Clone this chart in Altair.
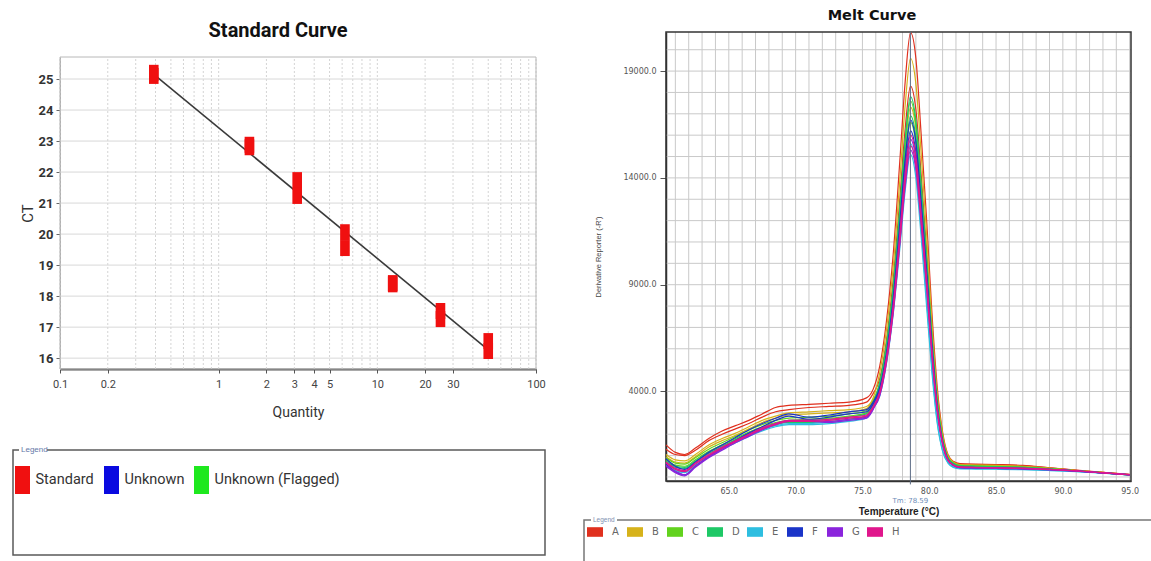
import altair as alt
import pandas as pd

# ---------------- Standard curve data ----------------
std_qty = [0.39, 0.39, 1.5625, 1.5625, 3.125, 3.125, 6.25, 6.25, 12.5, 12.5, 25, 25, 50, 50]
std_ct = [25.2, 25.1, 22.88, 22.8, 21.74, 21.23, 20.06, 19.55, 18.42, 18.38, 17.52, 17.26, 16.55, 16.23]
std_kind = ["Standard"] * 14
fit_qty = [0.39, 50]
fit_ct = [25.15, 16.27]
std_tick_values = [0.1, 0.2, 1, 2, 3, 4, 5, 10, 20, 30, 100]
std_minor_grid = [0.1, 0.2, 0.3, 0.4, 0.5, 0.6, 0.7, 0.8, 0.9,
                  1, 2, 3, 4, 5, 6, 7, 8, 9,
                  10, 20, 30, 40, 50, 60, 70, 80, 90, 100]
ct_tick_values = [16, 17, 18, 19, 20, 21, 22, 23, 24, 25]
std_categories = ["Standard", "Unknown", "Unknown (Flagged)"]
std_colors = ["#f01010", "#0a0ae0", "#1ee81e"]

# ---------------- Melt curve data ----------------
temps = [60.3, 61.0, 61.7, 62.5, 63.5, 64.5, 65.5, 66.5, 67.5, 68.5, 69.5, 71.0, 72.5, 74.0, 75.3, 75.8,
         76.3, 76.8, 77.3, 77.8, 78.2, 78.6, 79.0, 79.4, 79.8, 80.2, 80.6, 81.0, 81.4, 81.8,
         82.3, 83.5, 85.0, 87.0, 89.0, 91.0, 93.0, 95.0]
A1 = [1500, 1150, 1050, 1350, 1800, 2150, 2400, 2650, 2950, 3250, 3350, 3400, 3450, 3500, 3700, 4100,
      5200, 7300, 10400, 14800, 18500, 20800, 19600, 16000, 12100, 7700, 4200, 2100, 1050, 730,
      620, 600, 580, 540, 430, 320, 220, 120]
A2 = [1300, 1050, 1000, 1250, 1700, 2000, 2250, 2500, 2800, 3050, 3150, 3250, 3300, 3350, 3500, 3900,
      4600, 6400, 9200, 13000, 16300, 18300, 17200, 14100, 10600, 6800, 3700, 1900, 950, 680,
      600, 580, 560, 520, 420, 310, 210, 110]
B1 = [1050, 800, 750, 1050, 1500, 1800, 2050, 2350, 2650, 2850, 3000, 3050, 3100, 3150, 3300, 3700,
      4900, 6900, 9800, 13900, 17400, 19600, 18400, 15100, 11400, 7200, 3900, 2000, 1000, 700,
      580, 560, 540, 500, 410, 300, 210, 110]
B2 = [950, 700, 650, 950, 1400, 1700, 1950, 2250, 2550, 2750, 2900, 2950, 3000, 3050, 3200, 3600,
      4300, 6100, 8700, 12300, 15400, 17300, 16300, 13300, 10000, 6400, 3500, 1750, 900, 650,
      560, 540, 520, 480, 400, 300, 200, 100]
C1 = [900, 650, 600, 900, 1300, 1600, 1900, 2200, 2450, 2650, 2750, 2800, 2850, 2950, 3100, 3550,
      4400, 6200, 8800, 12500, 15700, 17600, 16500, 13600, 10200, 6500, 3500, 1800, 900, 640,
      540, 520, 500, 460, 390, 290, 200, 100]
C2 = [800, 550, 500, 800, 1200, 1500, 1800, 2100, 2350, 2550, 2650, 2700, 2750, 2850, 3000, 3450,
      4150, 5800, 8300, 11800, 14800, 16600, 15600, 12800, 9600, 6100, 3300, 1700, 850, 620,
      520, 500, 480, 450, 380, 290, 190, 100]
D1 = [750, 500, 450, 750, 1150, 1450, 1750, 2050, 2300, 2500, 2600, 2650, 2700, 2800, 2950, 3400,
      4450, 6200, 8900, 12600, 15800, 17800, 16700, 13700, 10300, 6600, 3600, 1800, 900, 640,
      520, 500, 480, 450, 380, 290, 190, 100]
D2 = [700, 450, 400, 700, 1100, 1400, 1700, 2000, 2250, 2450, 2550, 2550, 2600, 2700, 2850, 3300,
      4200, 5900, 8450, 12000, 15000, 16900, 15900, 13000, 9800, 6250, 3400, 1700, 850, 620,
      500, 480, 460, 430, 370, 280, 190, 100]
E1 = [600, 300, 200, 550, 950, 1300, 1600, 1900, 2150, 2350, 2450, 2450, 2500, 2600, 2750, 3200,
      3800, 5300, 7600, 10700, 13400, 15100, 14000, 11200, 8000, 4900, 2500, 1200, 650, 450,
      380, 370, 360, 340, 300, 250, 180, 100]
E2 = [650, 350, 250, 600, 1000, 1350, 1650, 1950, 2200, 2400, 2500, 2500, 2550, 2650, 2800, 3250,
      3900, 5500, 7800, 11100, 13900, 15600, 14500, 11600, 8300, 5100, 2600, 1250, 680, 470,
      400, 390, 380, 350, 310, 260, 180, 100]
F1 = [850, 500, 350, 700, 1150, 1500, 1850, 2200, 2500, 2750, 2950, 2800, 2900, 3050, 3150, 3500,
      4200, 5800, 8350, 11900, 14900, 16700, 15700, 12900, 9700, 6200, 3300, 1650, 820, 560,
      460, 440, 420, 400, 350, 280, 190, 100]
F2 = [600, 250, 100, 500, 950, 1350, 1700, 2050, 2350, 2650, 2850, 2700, 2800, 2950, 3050, 3400,
      4050, 5650, 8100, 11500, 14400, 16200, 15200, 12500, 9400, 6000, 3200, 1600, 800, 550,
      440, 420, 400, 380, 340, 270, 190, 100]
G1 = [500, 200, 50, 450, 900, 1250, 1600, 1900, 2200, 2450, 2600, 2600, 2550, 2650, 2750, 3150,
      3950, 5550, 7900, 11200, 14100, 15800, 14850, 12150, 9150, 5850, 3150, 1580, 790, 560,
      450, 430, 410, 390, 340, 280, 190, 110]
G2 = [550, 250, 100, 500, 950, 1300, 1650, 1950, 2250, 2500, 2650, 2650, 2600, 2700, 2800, 3200,
      3800, 5350, 7650, 10900, 13600, 15300, 14400, 11800, 8900, 5650, 3050, 1530, 770, 540,
      440, 420, 400, 380, 330, 270, 190, 100]
H1 = [650, 350, 250, 600, 1000, 1350, 1650, 1950, 2250, 2450, 2600, 2600, 2650, 2750, 2850, 3250,
      3900, 5400, 7750, 11000, 13800, 15500, 14600, 11900, 9000, 5750, 3100, 1550, 780, 550,
      460, 440, 420, 400, 350, 280, 190, 100]
H2 = [700, 400, 300, 650, 1050, 1400, 1700, 2000, 2300, 2500, 2650, 2650, 2700, 2800, 2900, 3300,
      4000, 5600, 8000, 11400, 14200, 16000, 15000, 12300, 9300, 5900, 3200, 1600, 800, 560,
      470, 450, 430, 410, 360, 290, 200, 110]

wells = ["A", "B", "C", "D", "E", "F", "G", "H"]
well_colors = ["#e0301e", "#d6b21a", "#62d21e", "#1ec866", "#2ebee0", "#1a34c8", "#8a24dc", "#e0168c"]
temp_tick_values = [65, 70, 75, 80, 85, 90, 95]
deriv_tick_values = [4000, 9000, 14000, 19000]
temp_grid = list(range(61, 96))
deriv_grid = list(range(0, 21000, 1000))
tm_value = 78.59

series = [("A", "A1", A1), ("A", "A2", A2), ("B", "B1", B1), ("B", "B2", B2),
          ("C", "C1", C1), ("C", "C2", C2), ("D", "D1", D1), ("D", "D2", D2),
          ("E", "E1", E1), ("E", "E2", E2), ("F", "F1", F1), ("F", "F2", F2),
          ("G", "G1", G1), ("G", "G2", G2), ("H", "H1", H1), ("H", "H2", H2)]
melt_rows = []
for w, sid, vals in series:
    for t, v in zip(temps, vals):
        melt_rows.append({"T": t, "v": v, "well": w, "sid": sid})
melt_df = pd.DataFrame(melt_rows)

LEFTFONT = "Roboto, Liberation Sans, sans-serif"
SANS = "DejaVu Sans, Verdana, sans-serif"
ARIAL = "Liberation Sans, Arial, sans-serif"

RECT_TALL = "M-0.6,-1H0.6V1H-0.6Z"
RECT_TALL_LEG = "M-0.75,-1.4H0.75V1.4H-0.75Z"
RECT_WIDE = "M-1,-0.6H1V0.6H-1Z"

one = pd.DataFrame({"k": [0]})

# ---------------- scales ----------------
LX = alt.Scale(type="log", domain=[0.1, 100], range=[60, 536], nice=False)
LY = alt.Scale(domain=[15.65, 25.71], range=[369, 57], nice=False, zero=False)
RX = alt.Scale(domain=[60.3, 95.1], range=[666, 1131], nice=False, zero=False)
RY = alt.Scale(domain=[-190, 20830], range=[481, 32], nice=False, zero=False)

# ---------------- left: standard curve ----------------
l_vgrid = alt.Chart(pd.DataFrame({"q": std_minor_grid})).mark_rule(
    color="#d4d4d4", strokeWidth=1, strokeDash=[2, 2]
).encode(
    x=alt.X("q:Q", scale=LX),
    y=alt.YDatum(15.65, scale=LY),
    y2=alt.Y2Datum(25.71),
)
l_hgrid = alt.Chart(pd.DataFrame({"c": ct_tick_values})).mark_rule(
    color="#d8d8d8", strokeWidth=1
).encode(
    y=alt.Y("c:Q", scale=LY),
    x=alt.XDatum(0.1, scale=LX),
    x2=alt.X2Datum(100),
)
l_frame = alt.Chart(one).mark_rect(fillOpacity=0, stroke="#b8b8b8", strokeWidth=1).encode(
    x=alt.XDatum(0.1, scale=LX),
    x2=alt.X2Datum(100),
    y=alt.YDatum(15.65, scale=LY),
    y2=alt.Y2Datum(25.71),
)
l_fit = alt.Chart(pd.DataFrame({"q": fit_qty, "c": fit_ct})).mark_line(
    color="#3a3a3a", strokeWidth=1.6
).encode(
    x=alt.X("q:Q", scale=LX),
    y=alt.Y("c:Q", scale=LY),
)
l_points = alt.Chart(pd.DataFrame({"q": std_qty, "c": std_ct, "kind": std_kind})).mark_point(
    filled=True, shape=RECT_TALL, size=256, opacity=1, strokeWidth=0
).encode(
    x=alt.X("q:Q", scale=LX, axis=alt.Axis(
        orient="bottom", offset=-192, values=std_tick_values, format="~g", grid=False,
        domainColor="#555555", domainWidth=2, tickColor="#555555", tickSize=4,
        labelFont=LEFTFONT, labelFontSize=11, labelColor="#444444", labelPadding=5,
        labelFlush=False, labelOverlap=False,
        title="Quantity", titleFont=LEFTFONT, titleFontSize=14, titleFontWeight="normal",
        titleColor="#333333", titlePadding=16)),
    y=alt.Y("c:Q", scale=LY, axis=alt.Axis(
        orient="left", offset=-60, values=ct_tick_values, format="d", grid=False,
        domainColor="#aaaaaa", domainWidth=1, tickColor="#666666", tickSize=4,
        labelFont=LEFTFONT, labelFontSize=13, labelFontWeight="bold", labelColor="#333333",
        labelPadding=3, labelOverlap=False,
        title="CT", titleFont=LEFTFONT, titleFontSize=15, titleFontWeight="normal",
        titleColor="#333333", titlePadding=3)),
    color=alt.Color("kind:N", scale=alt.Scale(domain=std_categories, range=std_colors),
                    legend=alt.Legend(
                        title=None, orient="none", legendX=12.5, legendY=470, direction="horizontal",
                        symbolType=RECT_TALL_LEG, symbolSize=400, symbolStrokeWidth=0, symbolOpacity=1,
                        labelFont=LEFTFONT, labelFontSize=14.5, labelColor="#333333",
                        labelOffset=3, columnPadding=7, padding=0)),
)
l_legend_frame = alt.Chart(one).mark_rect(fillOpacity=0, stroke="#5a5a5a", strokeWidth=1.5).encode(
    x=alt.value(13), x2=alt.value(545), y=alt.value(450), y2=alt.value(555)
)
l_legend_patch = alt.Chart(one).mark_rect(fill="white").encode(
    x=alt.value(19), x2=alt.value(47), y=alt.value(445), y2=alt.value(455)
)
l_legend_title = alt.Chart(one).mark_text(
    align="left", baseline="middle", font=ARIAL, fontSize=8, color="#6478a8"
).encode(x=alt.value(21), y=alt.value(450), text=alt.value("Legend"))
l_title = alt.Chart(one).mark_text(
    align="center", baseline="middle", font=LEFTFONT, fontSize=20, fontWeight="bold", color="#111111"
).encode(x=alt.value(278), y=alt.value(31), text=alt.value("Standard Curve"))

left = alt.layer(l_vgrid, l_hgrid, l_frame, l_fit, l_points,
                 l_legend_frame, l_legend_patch, l_legend_title, l_title)

# ---------------- right: melt curve ----------------
r_vgrid = alt.Chart(pd.DataFrame({"t": temp_grid})).mark_rule(color="#c9c9c9", strokeWidth=1).encode(
    x=alt.X("t:Q", scale=RX),
    y=alt.YDatum(-190, scale=RY),
    y2=alt.Y2Datum(20830),
)
r_hgrid = alt.Chart(pd.DataFrame({"d": deriv_grid})).mark_rule(color="#c9c9c9", strokeWidth=1).encode(
    y=alt.Y("d:Q", scale=RY),
    x=alt.XDatum(60.3, scale=RX),
    x2=alt.X2Datum(95.1),
)
r_frame = alt.Chart(one).mark_rect(fillOpacity=0, stroke="#333333", strokeWidth=1.5).encode(
    x=alt.XDatum(60.3, scale=RX),
    x2=alt.X2Datum(95.1),
    y=alt.YDatum(-190, scale=RY),
    y2=alt.Y2Datum(20830),
)
well_scale = alt.Scale(domain=wells, range=well_colors)
r_lines = alt.Chart(melt_df).mark_line(strokeWidth=1.2, interpolate="monotone").encode(
    x=alt.X("T:Q", scale=RX, axis=alt.Axis(
        orient="bottom", offset=-80, values=temp_tick_values, format=".1f", grid=False,
        domainColor="#333333", domainWidth=1.5, tickSize=0,
        labelFont=SANS, labelFontSize=8, labelColor="#555555", labelPadding=6,
        labelFlush=False, labelOverlap=False,
        title="Temperature (°C)", titleFont=ARIAL, titleFontSize=10, titleFontWeight="bold",
        titleColor="#222222", titlePadding=11)),
    y=alt.Y("v:Q", scale=RY, axis=alt.Axis(
        orient="left", offset=-666, values=deriv_tick_values, format=".1f", grid=False,
        domainColor="#333333", domainWidth=1.5, tickColor="#555555", tickSize=6,
        labelFont=SANS, labelFontSize=8, labelColor="#555555", labelPadding=4, labelOverlap=False,
        title="Derivative Reporter (-R')", titleFont=ARIAL, titleFontSize=7.5,
        titleFontWeight="normal", titleColor="#444444", titlePadding=20)),
    stroke=alt.Stroke("well:N", scale=well_scale, legend=None),
    detail="sid:N",
)
r_legend_src = alt.Chart(pd.DataFrame({"well": wells})).mark_point(
    filled=True, opacity=0, size=10
).encode(
    x=alt.XDatum(80, scale=RX),
    y=alt.YDatum(5000, scale=RY),
    color=alt.Color("well:N", scale=well_scale, legend=alt.Legend(
        title=None, orient="none", legendX=587, legendY=524, direction="horizontal",
        symbolType=RECT_WIDE, symbolSize=256, symbolStrokeWidth=0, symbolOpacity=1,
        labelFont=SANS, labelFontSize=10, labelColor="#666666",
        labelOffset=9, columnPadding=7, gridAlign="all", padding=0)),
)
r_tm_rule = alt.Chart(one).mark_rule(color="#5b6b85", strokeWidth=1).encode(
    x=alt.XDatum(tm_value, scale=RX),
    y=alt.YDatum(-350, scale=RY),
    y2=alt.Y2Datum(20830),
)
r_tm_text = alt.Chart(one).mark_text(
    align="center", baseline="middle", font=SANS, fontSize=7, color="#6d8cb8"
).encode(x=alt.XDatum(tm_value, scale=RX), y=alt.value(500.5),
         text=alt.value("Tm: 78.59"))
r_legend_frame = alt.Chart(one).mark_rect(fillOpacity=0, stroke="#777777", strokeWidth=1.5).encode(
    x=alt.value(584), x2=alt.value(1180), y=alt.value(520), y2=alt.value(600)
)
r_legend_patch = alt.Chart(one).mark_rect(fill="white").encode(
    x=alt.value(591), x2=alt.value(617), y=alt.value(515), y2=alt.value(525)
)
r_legend_title = alt.Chart(one).mark_text(
    align="left", baseline="middle", font=ARIAL, fontSize=6.5, color="#8090b0"
).encode(x=alt.value(593), y=alt.value(520), text=alt.value("Legend"))
r_title = alt.Chart(one).mark_text(
    align="center", baseline="middle", font=SANS, fontSize=14.5, fontWeight="bold", color="#111111"
).encode(x=alt.value(872), y=alt.value(16), text=alt.value("Melt Curve"))

right = alt.layer(r_vgrid, r_hgrid, r_frame, r_lines, r_legend_src, r_tm_rule, r_tm_text,
                  r_legend_frame, r_legend_patch, r_legend_title, r_title)

chart = alt.layer(left, right).resolve_scale(
    x="independent", y="independent", color="independent"
).properties(
    width=1151, height=561,
    autosize=alt.AutoSizeParams(type="none"),
    padding=0,
    background="white",
).configure_view(stroke=None)

chart.save("out.html", embed_options={"renderer": "svg", "actions": False})
